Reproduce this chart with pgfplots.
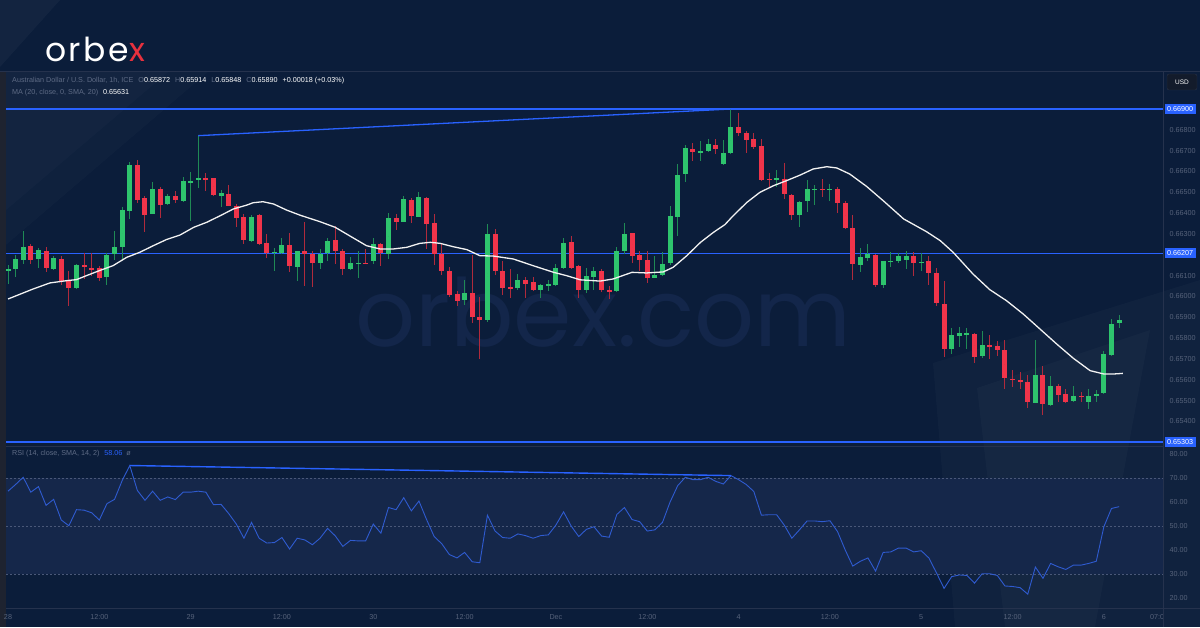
\documentclass[border=0pt]{standalone}
\usepackage{pgfplots}
\pgfplotsset{compat=1.18}
\usepackage{pgfplotstable}
\usepackage{fontspec}
\setmainfont{Liberation Sans}
\newfontfamily\pop{Poppins}
\definecolor{bg}{HTML}{0B1D3A}
\definecolor{band}{HTML}{15274A}
\definecolor{strip}{HTML}{1E2330}
\definecolor{sep}{HTML}{25324D}
\definecolor{hline}{HTML}{2962FF}
\definecolor{lblue}{HTML}{2962FF}
\definecolor{rsiline}{HTML}{2F5BD0}
\definecolor{tick}{HTML}{56627A}
\definecolor{hdr}{HTML}{5E6B85}
\definecolor{cgreen}{HTML}{2EC46D}
\definecolor{cred}{HTML}{F0344A}
\definecolor{wgreen}{HTML}{1F8A55}
\definecolor{wred}{HTML}{B02A3C}
\definecolor{wm}{HTML}{13264A}
\definecolor{logored}{HTML}{E8313E}
\definecolor{dashc}{HTML}{4A5878}

\pgfplotstableread{
i o h l c
0 0.66124 0.66151 0.66060 0.66132
1 0.66132 0.66199 0.66092 0.66180
2 0.66177 0.66316 0.66156 0.66239
4 0.66180 0.66236 0.66140 0.66223
6 0.66135 0.66196 0.66129 0.66185
9 0.66039 0.66156 0.66036 0.66151
13 0.66095 0.66209 0.66055 0.66202
14 0.66204 0.66316 0.66177 0.66239
15 0.66239 0.66428 0.66180 0.66418
16 0.66412 0.66647 0.66375 0.66633
19 0.66399 0.66548 0.66396 0.66519
21 0.66446 0.66492 0.66439 0.66484
23 0.66458 0.66572 0.66455 0.66556
24 0.66548 0.66596 0.66364 0.66556
25 0.66561 0.66772 0.66524 0.66569
28 0.66484 0.66513 0.66428 0.66495
32 0.66268 0.66391 0.66263 0.66385
35 0.66210 0.66236 0.66124 0.66215
36 0.66212 0.66281 0.66204 0.66246
38 0.66143 0.66220 0.66076 0.66218
41 0.66164 0.66228 0.66135 0.66204
42 0.66209 0.66279 0.66172 0.66268
45 0.66132 0.66188 0.66129 0.66164
46 0.66159 0.66220 0.66087 0.66164
48 0.66169 0.66284 0.66156 0.66255
50 0.66204 0.66399 0.66180 0.66377
52 0.66359 0.66484 0.66356 0.66468
54 0.66383 0.66503 0.66380 0.66476
60 0.65985 0.66081 0.65959 0.66017
63 0.65889 0.66348 0.65876 0.66303
67 0.66039 0.66108 0.66033 0.66081
70 0.66031 0.66060 0.65993 0.66054
71 0.66052 0.66081 0.66025 0.66060
72 0.66058 0.66159 0.66052 0.66140
73 0.66137 0.66279 0.66132 0.66260
76 0.66033 0.66137 0.66017 0.66100
77 0.66092 0.66140 0.66033 0.66121
80 0.66028 0.66236 0.66023 0.66217
81 0.66217 0.66353 0.66204 0.66300
85 0.66092 0.66196 0.66089 0.66103
86 0.66103 0.66212 0.66100 0.66159
87 0.66159 0.66436 0.66153 0.66385
88 0.66383 0.66636 0.66292 0.66585
89 0.66588 0.66727 0.66551 0.66711
91 0.66692 0.66748 0.66652 0.66700
92 0.66700 0.66756 0.66692 0.66732
94 0.66636 0.66753 0.66633 0.66692
95 0.66689 0.66900 0.66684 0.66815
101 0.66558 0.66607 0.66524 0.66567
104 0.66393 0.66460 0.66337 0.66455
105 0.66457 0.66559 0.66404 0.66516
106 0.66513 0.66535 0.66441 0.66519
108 0.66513 0.66540 0.66460 0.66519
112 0.66153 0.66231 0.66116 0.66188
113 0.66183 0.66252 0.66169 0.66204
115 0.66055 0.66172 0.66044 0.66169
116 0.66169 0.66212 0.66140 0.66172
117 0.66169 0.66212 0.66164 0.66196
118 0.66175 0.66217 0.66132 0.66196
120 0.66164 0.66212 0.66124 0.66169
124 0.65751 0.65852 0.65724 0.65815
125 0.65812 0.65852 0.65759 0.65826
126 0.65820 0.65852 0.65748 0.65825
128 0.65713 0.65836 0.65708 0.65767
135 0.65492 0.65793 0.65489 0.65623
137 0.65481 0.65620 0.65476 0.65572
140 0.65500 0.65569 0.65492 0.65524
142 0.65497 0.65556 0.65460 0.65524
143 0.65521 0.65551 0.65492 0.65535
144 0.65537 0.65740 0.65532 0.65724
145 0.65719 0.65892 0.65716 0.65868
146 0.65872 0.65914 0.65848 0.65890
}\greentab

\pgfplotstableread{
i o h l c
3 0.66241 0.66252 0.66156 0.66177
5 0.66220 0.66236 0.66119 0.66135
7 0.66180 0.66196 0.66055 0.66074
8 0.66076 0.66124 0.65956 0.66041
10 0.66151 0.66212 0.66084 0.66145
11 0.66137 0.66209 0.66100 0.66130
12 0.66140 0.66148 0.66076 0.66092
17 0.66633 0.66657 0.66449 0.66463
18 0.66471 0.66484 0.66313 0.66394
20 0.66519 0.66524 0.66375 0.66439
22 0.66484 0.66508 0.66449 0.66463
26 0.66569 0.66596 0.66508 0.66559
27 0.66569 0.66571 0.66484 0.66489
29 0.66495 0.66535 0.66433 0.66436
30 0.66436 0.66444 0.66335 0.66377
31 0.66383 0.66396 0.66252 0.66273
33 0.66393 0.66396 0.66250 0.66252
34 0.66257 0.66300 0.66188 0.66209
37 0.66249 0.66303 0.66116 0.66148
39 0.66217 0.66359 0.66052 0.66207
40 0.66204 0.66220 0.66047 0.66164
43 0.66271 0.66337 0.66156 0.66220
44 0.66220 0.66228 0.66105 0.66132
47 0.66164 0.66228 0.66156 0.66159
49 0.66255 0.66260 0.66148 0.66209
51 0.66377 0.66396 0.66319 0.66359
53 0.66465 0.66476 0.66356 0.66385
55 0.66476 0.66479 0.66231 0.66351
56 0.66351 0.66396 0.66151 0.66204
57 0.66204 0.66255 0.66105 0.66124
58 0.66121 0.66140 0.65996 0.66009
59 0.66012 0.66028 0.65956 0.65980
61 0.66017 0.66199 0.65873 0.65903
62 0.65903 0.65996 0.65700 0.65890
64 0.66303 0.66327 0.66103 0.66124
65 0.66124 0.66172 0.66009 0.66044
66 0.66047 0.66132 0.65993 0.66039
68 0.66081 0.66092 0.65993 0.66060
69 0.66068 0.66097 0.66028 0.66031
74 0.66263 0.66292 0.66135 0.66138
75 0.66148 0.66151 0.65993 0.66033
78 0.66124 0.66132 0.66023 0.66033
79 0.66031 0.66052 0.65988 0.66023
82 0.66305 0.66308 0.66164 0.66196
83 0.66199 0.66220 0.66124 0.66175
84 0.66177 0.66220 0.66065 0.66092
90 0.66708 0.66740 0.66652 0.66695
93 0.66727 0.66756 0.66684 0.66711
96 0.66817 0.66881 0.66772 0.66788
97 0.66785 0.66796 0.66692 0.66753
98 0.66756 0.66788 0.66708 0.66719
99 0.66721 0.66756 0.66556 0.66559
100 0.66567 0.66593 0.66519 0.66561
102 0.66564 0.66639 0.66468 0.66492
103 0.66489 0.66492 0.66369 0.66391
107 0.66518 0.66564 0.66479 0.66513
109 0.66519 0.66524 0.66399 0.66449
110 0.66447 0.66460 0.66324 0.66329
111 0.66329 0.66391 0.66081 0.66156
114 0.66201 0.66204 0.66044 0.66055
119 0.66193 0.66212 0.66100 0.66161
121 0.66172 0.66196 0.66057 0.66113
122 0.66113 0.66137 0.65953 0.65969
123 0.65967 0.66076 0.65708 0.65751
127 0.65820 0.65828 0.65684 0.65713
129 0.65767 0.65815 0.65703 0.65759
130 0.65764 0.65788 0.65716 0.65743
131 0.65743 0.65793 0.65556 0.65609
132 0.65607 0.65647 0.65564 0.65599
133 0.65599 0.65639 0.65556 0.65591
134 0.65588 0.65623 0.65468 0.65492
136 0.65623 0.65668 0.65431 0.65484
138 0.65572 0.65580 0.65495 0.65529
139 0.65532 0.65556 0.65492 0.65495
141 0.65524 0.65540 0.65495 0.65516
}\redtab

\pgfplotstableread{
i m
0 0.65988
3.3 0.66036
5.5 0.66065
7.7 0.66076
9 0.66081
10.3 0.66100
12 0.66124
13.8 0.66148
15.6 0.66188
17.3 0.66212
19.1 0.66244
20.8 0.66273
22.6 0.66295
24.4 0.66332
26.1 0.66356
27.9 0.66388
29.6 0.66420
31.4 0.66439
32.2 0.66450
33.5 0.66455
34.9 0.66444
36.6 0.66415
38.4 0.66390
41 0.66359
43 0.66332
45 0.66289
47.1 0.66244
48.9 0.66228
50.6 0.66228
52.4 0.66236
54.1 0.66255
55.5 0.66260
56.8 0.66255
58.5 0.66239
60.3 0.66225
62 0.66196
63.8 0.66194
66.4 0.66180
69 0.66148
71.7 0.66116
73.4 0.66100
75.2 0.66080
77.8 0.66074
79.5 0.66084
82 0.66116
83.9 0.66113
86.1 0.66118
87.4 0.66140
89.2 0.66196
91 0.66260
92.7 0.66308
94.2 0.66345
95.3 0.66388
97.1 0.66452
98.8 0.66500
100.6 0.66532
102.3 0.66556
104.1 0.66583
105.8 0.66612
107.6 0.66623
108.9 0.66617
110.6 0.66588
112.8 0.66529
115 0.66460
117.7 0.66372
120.7 0.66311
122.5 0.66268
124.2 0.66212
126.8 0.66108
129 0.66033
131.2 0.65980
133.4 0.65916
135.6 0.65844
137.8 0.65772
140 0.65703
142.2 0.65644
144 0.65628
145.3 0.65628
146.5 0.65631
}\matab

\pgfplotstableread{
i r
0 64.5
1 67.3
2 70.3
3 64.1
4 66.4
5 58.6
6 61.1
7 52.5
8 50.1
9 56.8
10 56.6
11 55.5
12 52.5
13 59.3
14 61.1
15 68.9
16 75.2
17 64.8
18 60.7
19 64.5
20 60.7
21 62.1
22 61.0
23 64.1
24 64.1
25 64.5
26 64.1
27 58.9
28 59.0
29 55.2
30 50.8
31 44.9
32 51.5
33 44.9
34 42.9
35 43.1
36 45.2
37 40.4
38 44.9
39 44.2
40 42.2
41 44.9
42 49.0
43 45.9
44 41.5
45 44.0
46 43.8
47 43.8
48 50.8
49 47.0
50 57.7
51 56.8
52 61.8
53 56.3
54 60.4
55 52.7
56 45.6
57 42.6
58 38.1
59 36.7
60 39.0
61 35.1
62 34.7
63 54.5
64 47.9
65 45.2
66 44.9
67 46.7
68 46.0
69 44.9
70 46.0
71 46.3
72 50.4
73 55.9
74 50.0
75 45.6
76 48.6
77 49.7
78 45.8
79 45.3
80 54.8
81 57.7
82 52.7
83 51.8
84 47.9
85 48.4
86 51.5
87 60.0
88 66.8
89 70.3
90 69.3
91 69.3
92 70.3
93 68.6
94 67.5
95 71.0
96 69.3
97 67.3
98 64.4
99 54.5
100 54.7
101 54.7
102 50.4
103 44.9
104 48.4
105 52.1
106 52.1
107 51.8
108 52.2
109 47.7
110 40.1
111 33.3
112 35.3
113 36.7
114 31.2
115 39.0
116 39.2
117 40.8
118 40.8
119 39.2
120 39.7
121 36.7
122 30.5
123 24.0
124 28.9
125 29.6
126 29.4
127 26.2
128 30.1
129 30.1
130 29.4
131 25.0
132 24.8
133 24.3
134 21.6
135 32.9
136 28.2
137 34.4
138 33.0
139 31.9
140 33.7
141 33.7
142 34.4
143 35.3
144 49.7
145 57.3
146 58.06
}\rsitab

\pgfplotsset{
  candle/.style 2 args={only marks, mark size=0pt, mark options={draw=none,fill=none},
    error bars/.cd, y dir=both, y explicit, error mark=none,
    error bar style={line width=#1, draw=#2}},
}

\begin{document}
\begin{tikzpicture}
\useasboundingbox (0pt,0pt) rectangle (1200pt,627pt);
% background
\fill[bg] (0pt,0pt) rectangle (1200pt,627pt);
% decorative light panels
\fill[white,opacity=0.035] (0pt,555pt) -- (168pt,555pt) -- (0pt,412pt) -- cycle;
\fill[white,opacity=0.02] (168pt,555pt) -- (208pt,555pt) -- (0pt,377pt) -- (0pt,412pt) -- cycle;
\fill[white,opacity=0.035] (0pt,627pt) -- (60pt,627pt) -- (0pt,560pt) -- cycle;
\fill[white,opacity=0.025] (933pt,264pt) -- (1200pt,347pt) -- (1200pt,0pt) -- (955pt,0pt) -- cycle;
\fill[white,opacity=0.025] (977pt,239pt) -- (1150pt,297pt) -- (1095pt,0pt) -- (1005pt,0pt) -- cycle;
% left strip
\fill[strip] (0pt,0pt) rectangle (6pt,556pt);
% watermark
\node[anchor=base west, inner sep=0pt, text=wm, font=\pop\fontsize{94}{94}\selectfont] at (355pt,280pt) {orbex.com};

% ---------- price pane ----------
\begin{axis}[
  at={(6pt,556pt)}, anchor=north west, scale only axis,
  width=1157pt, height=374pt,
  xmin=-0.263, xmax=151.77, ymin=0.652872, ymax=0.670824,
  axis line style={draw=none}, tick style={draw=none}, major tick length=0pt,
  xtick=\empty,
  ytick={0.668,0.667,0.666,0.665,0.664,0.663,0.661,0.660,0.659,0.658,0.657,0.656,0.655,0.654},
  yticklabels={0.66800,0.66700,0.66600,0.66500,0.66400,0.66300,0.66100,0.66000,0.65900,0.65800,0.65700,0.65600,0.65500,0.65400},
  yticklabel pos=right,
  yticklabel style={anchor=west, xshift=3pt, font=\fontsize{7.2}{8}\selectfont, text=tick},
]
\addplot[hline, line width=1.7pt] coordinates {(-0.263,0.669) (151.77,0.669)};
\addplot[hline, line width=1.7pt] coordinates {(-0.263,0.66207) (151.77,0.66207)};
\addplot[hline, line width=1.7pt] coordinates {(-0.263,0.65303) (151.77,0.65303)};
% wicks
\addplot[candle={1pt}{wgreen}]
  table[x=i, y expr={(\thisrow{h}+\thisrow{l})/2}, y error expr={(\thisrow{h}-\thisrow{l})/2}] {\greentab};
\addplot[candle={1pt}{wred}]
  table[x=i, y expr={(\thisrow{h}+\thisrow{l})/2}, y error expr={(\thisrow{h}-\thisrow{l})/2}] {\redtab};
% bodies
\addplot[candle={5pt}{cgreen}]
  table[x=i, y expr={(\thisrow{o}+\thisrow{c})/2}, y error expr={max(abs(\thisrow{c}-\thisrow{o})/2,0.00002)}] {\greentab};
\addplot[candle={5pt}{cred}]
  table[x=i, y expr={(\thisrow{o}+\thisrow{c})/2}, y error expr={max(abs(\thisrow{c}-\thisrow{o})/2,0.00002)}] {\redtab};
% moving average
\addplot[white!90!gray, line width=1.3pt] table[x=i, y=m] {\matab};
% trend line
\addplot[lblue, line width=1.3pt] coordinates {(25,0.66772) (95,0.66900)};
\coordinate (a1) at (axis cs:151.77,0.669);
\coordinate (a2) at (axis cs:151.77,0.66207);
\coordinate (a3) at (axis cs:151.77,0.65303);
\end{axis}

% ---------- RSI pane ----------
\begin{axis}[
  at={(6pt,181pt)}, anchor=north west, scale only axis,
  width=1157pt, height=162pt,
  xmin=-0.263, xmax=151.77, ymin=15.8333, ymax=83.3333,
  axis line style={draw=none}, tick style={draw=none}, major tick length=0pt,
  ytick={20,30,40,50,60,70,80},
  yticklabels={20.00,30.00,40.00,50.00,60.00,70.00,80.00},
  yticklabel pos=right,
  yticklabel style={anchor=west, xshift=3pt, font=\fontsize{7.2}{8}\selectfont, text=tick},
  xtick={0,12,24,36,48,60,72,84,96,108,120,132,144,151},
  xticklabels={28,12:00,29,12:00,30,12:00,Dec,12:00,4,12:00,5,12:00,6,07:0},
  xticklabel style={yshift=-3pt, font=\fontsize{7.2}{8}\selectfont, text=tick},
]
\fill[band] (axis cs:-0.263,30) rectangle (axis cs:151.77,70);
\addplot[dashc, line width=0.7pt, dash pattern=on 2pt off 2pt] coordinates {(-0.263,70) (151.77,70)};
\addplot[dashc, line width=0.7pt, dash pattern=on 2pt off 2pt] coordinates {(-0.263,50) (151.77,50)};
\addplot[dashc, line width=0.7pt, dash pattern=on 2pt off 2pt] coordinates {(-0.263,30) (151.77,30)};
\addplot[rsiline, line width=0.9pt] table[x=i, y=r] {\rsitab};
\addplot[lblue, line width=1.4pt] coordinates {(16,75.2) (95,71.0)};
\end{axis}

% separators
\draw[sep, line width=0.8pt] (0pt,556pt) -- (1200pt,556pt);
\draw[sep, line width=0.8pt] (6pt,181pt) -- (1163.5pt,181pt);
\draw[sep, line width=0.8pt] (6pt,19pt) -- (1200pt,19pt);
\draw[sep, line width=0.8pt] (1163.5pt,0pt) -- (1163.5pt,556pt);

% price line labels
\foreach \c/\t in {a1/0.66900, a2/0.66207, a3/0.65303}{
  \node[fill=lblue, text=white, anchor=west, inner xsep=2.5pt, inner ysep=1.3pt, minimum height=10pt,
        font=\fontsize{7.2}{8}\selectfont, xshift=1.5pt] at (\c) {\t};
}
% USD box
\draw[fill={rgb,255:red,19;green,27;blue,43}, draw={rgb,255:red,42;green,51;blue,72}, rounded corners=2pt] (1167pt,537pt) rectangle (1197pt,553pt);
\node[text=white, font=\fontsize{6.5}{7}\selectfont] at (1182pt,545pt) {USD};

% header
\node[anchor=west, inner sep=0pt, text=hdr, font=\fontsize{7.2}{8}\selectfont] at (12pt,546pt)
 {Australian Dollar / U.S. Dollar, 1h, ICE\hspace{5pt}O\textcolor{white}{0.65872}\hspace{5pt}H\textcolor{white}{0.65914}\hspace{5pt}L\textcolor{white}{0.65848}\hspace{5pt}C\textcolor{white}{0.65890}\hspace{5pt}\textcolor{white}{+0.00018 (+0.03\%)}};
\node[anchor=west, inner sep=0pt, text=hdr, font=\fontsize{7.2}{8}\selectfont] at (12pt,534.5pt)
 {MA (20, close, 0, SMA, 20)\hspace{5pt}\textcolor{white}{0.65631}};
\node[anchor=west, inner sep=0pt, text=hdr, font=\fontsize{7.2}{8}\selectfont] at (12pt,173pt)
 {RSI (14, close, SMA, 14, 2)\hspace{5pt}\textcolor{lblue}{58.06}\hspace{4pt}ø};

% logo
\node[anchor=base west, inner sep=0pt, font=\pop\fontsize{33}{33}\selectfont\addfontfeature{LetterSpace=8}] at (45pt,565pt)
 {\textcolor{white}{orbe}\textcolor{logored}{x}};
\end{tikzpicture}
\end{document}
